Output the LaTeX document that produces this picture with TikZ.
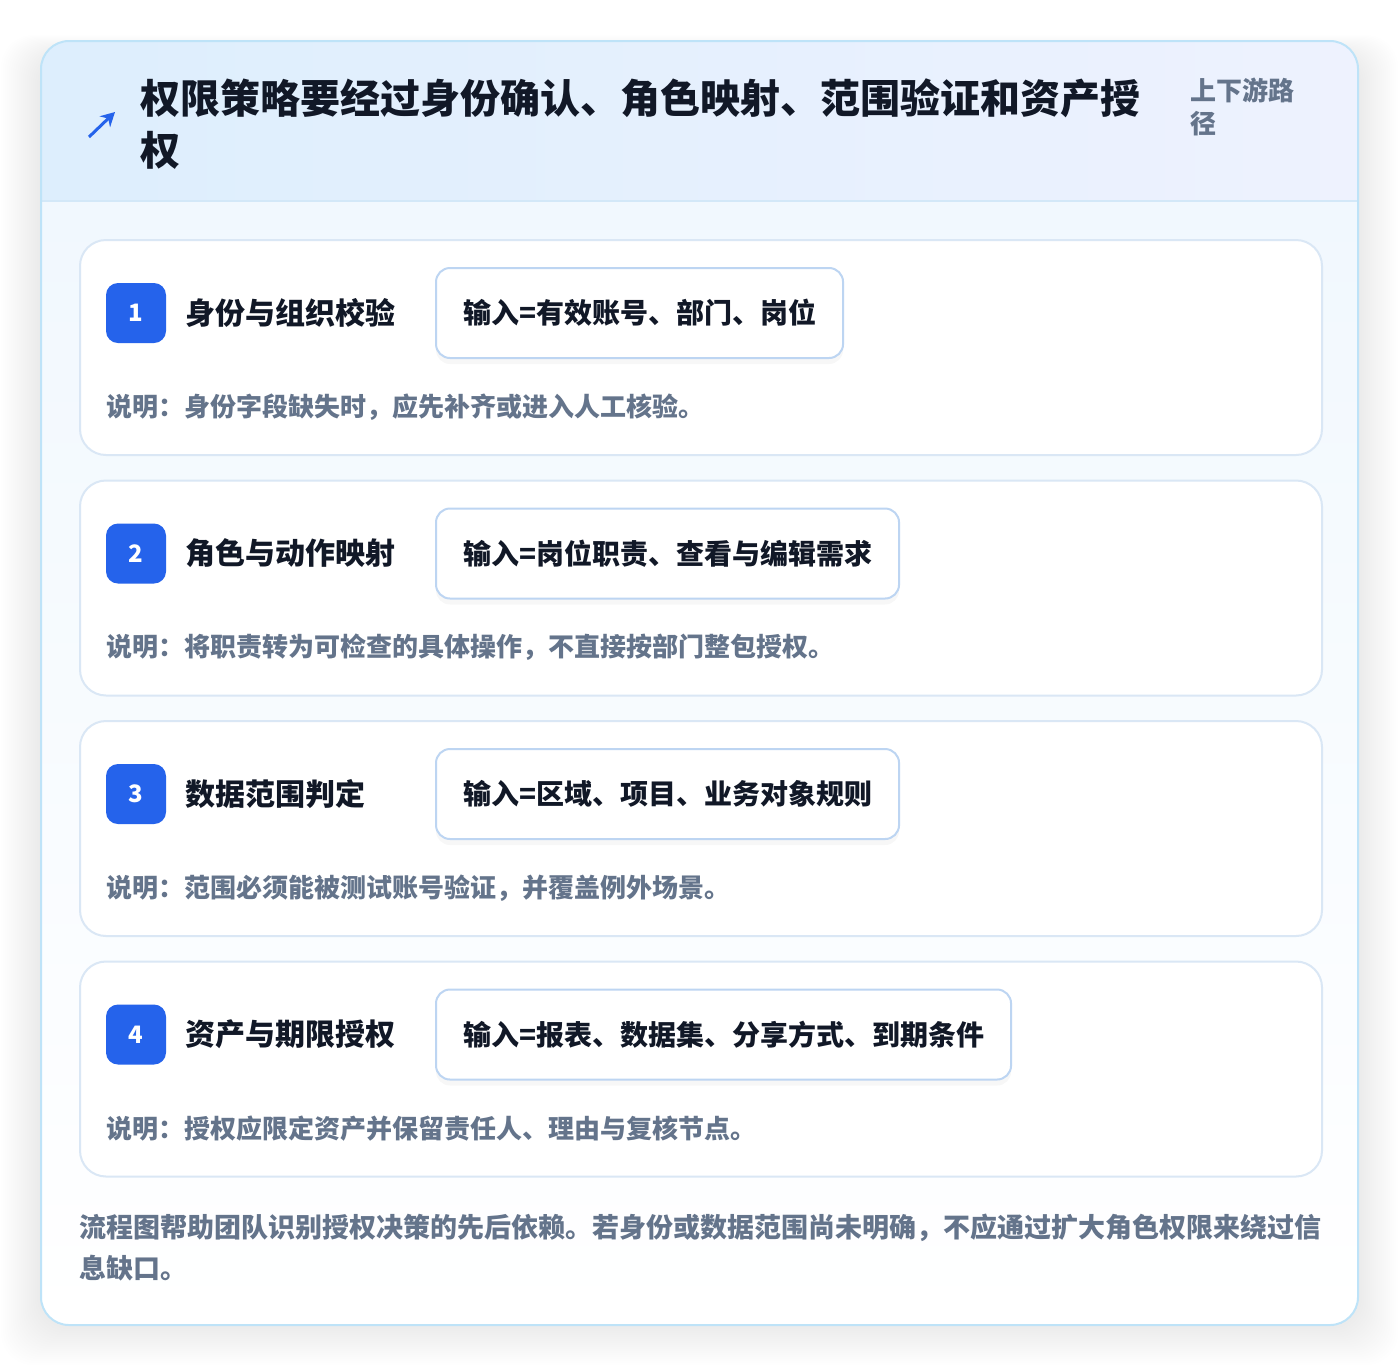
\documentclass[tikz,border=0pt]{standalone}
\usepackage{fontspec}
\setmainfont{Noto Sans CJK SC}
\usetikzlibrary{
  arrows.meta,
  positioning,
  shadows,
  calc,
}

\definecolor{accent}{HTML}{2563EB}
\definecolor{ink}{HTML}{111827}
\definecolor{muted}{HTML}{64748B}
\definecolor{frame}{HTML}{BEE3F8}
\definecolor{cardline}{HTML}{DAE7F5}
\definecolor{boxline}{HTML}{BDD5F2}
\definecolor{sepline}{HTML}{D3E8F8}
\definecolor{headl}{HTML}{DDEEFD}
\definecolor{headr}{HTML}{EEF2FE}
\definecolor{bodytop}{HTML}{F1F8FE}

\tikzset{
  stepcard/.style={draw=cardline, line width=1pt, fill=white, rounded corners=13pt,
      anchor=north west, minimum width=621pt, minimum height=107.5pt, inner sep=0pt},
  badge/.style={fill=accent, rounded corners=6pt, minimum size=30pt, inner sep=0pt,
      text=white, font=\fontsize{12pt}{14pt}\selectfont\bfseries},
  steptitle/.style={inner sep=0pt, text=ink, font=\fontsize{15pt}{18pt}\selectfont\bfseries},
  inputbox/.style={draw=boxline, line width=1pt, fill=white, rounded corners=7pt,
      minimum height=45pt, inner xsep=13.5pt, anchor=west, text=ink,
      font=\fontsize{14pt}{17pt}\selectfont\bfseries,
      drop shadow={shadow xshift=0pt, shadow yshift=-3pt, opacity=0.03, fill=black}},
  notetext/.style={inner sep=0pt, anchor=west, text=muted,
      font=\fontsize{13pt}{16pt}\selectfont\bfseries},
}

\begin{document}
\begin{tikzpicture}[x=0.5pt, y=-0.5pt]
  \useasboundingbox (0,0) rectangle (1400,1366);

  % soft shadow round the panel
  \foreach \s in {2,4,...,40}{
      \fill[black, opacity=0.0045, rounded corners=16pt] (41-\s,55-\s/2) rectangle (1358+\s,1325+\s);
    }

  % panel: header band and body
  \begin{scope}
    \clip[rounded corners=14pt] (41,41) rectangle (1358,1325);
    \shade[top color=bodytop, bottom color=white] (41,201) rectangle (1358,1325);
    \shade[left color=headl, right color=headr] (41,41) rectangle (1358,201);
  \end{scope}
  \draw[sepline, line width=1pt] (41,201) -- (1358,201);
  \draw[frame, line width=1pt, rounded corners=14pt] (41,41) rectangle (1358,1325);

  % header
  \coordinate (icon0) at (89,137);
  \coordinate (icon1) at (115,112);
  \draw[accent, line width=1.5pt, -{Stealth[length=7pt, width=7.5pt]}] (icon0) -- (icon1);
  \node[anchor=west, align=left, inner sep=0pt, text=ink,
    font=\fontsize{20pt}{26pt}\selectfont\bfseries] (headline) at (140,124)
    {权限策略要经过身份确认、角色映射、范围验证和资产授\\权};
  \node[anchor=west, align=left, inner sep=0pt, text=muted,
    font=\fontsize{13pt}{16.5pt}\selectfont\bfseries] (tag) at (1190,106.5)
    {上下游路\\径};

  % steps
  \foreach \i/\ttl/\inp/\desc in {
      1/身份与组织校验/输入=有效账号、部门、岗位/说明：身份字段缺失时，应先补齐或进入人工核验。,
      2/角色与动作映射/输入=岗位职责、查看与编辑需求/说明：将职责转为可检查的具体操作，不直接按部门整包授权。,
      3/数据范围判定/输入=区域、项目、业务对象规则/说明：范围必须能被测试账号验证，并覆盖例外场景。,
      4/资产与期限授权/输入=报表、数据集、分享方式、到期条件/说明：授权应限定资产并保留责任人、理由与复核节点。
    }{
      \pgfmathsetmacro\cardtop{239+240.5*(\i-1)}
      \node[stepcard] (card\i) at (79,\cardtop) {};
      \node[badge] (badge\i) at (136,\cardtop+74) {\i};
      \node[steptitle, right=9.5pt of badge\i] (title\i) {\ttl};
      \node[inputbox] (input\i) at (435,\cardtop+74) {\inp};
      \node[notetext] (note\i) at (106,\cardtop+168) {\desc};
    }

  % footer
  \node[anchor=west, align=left, inner sep=0pt, text=muted,
    font=\fontsize{13.5pt}{20.5pt}\selectfont\bfseries] (summary) at (79,1247.5)
    {流程图帮助团队识别授权决策的先后依赖。若身份或数据范围尚未明确，不应通过扩大角色权限来绕过信\\息缺口。};
\end{tikzpicture}
\end{document}
